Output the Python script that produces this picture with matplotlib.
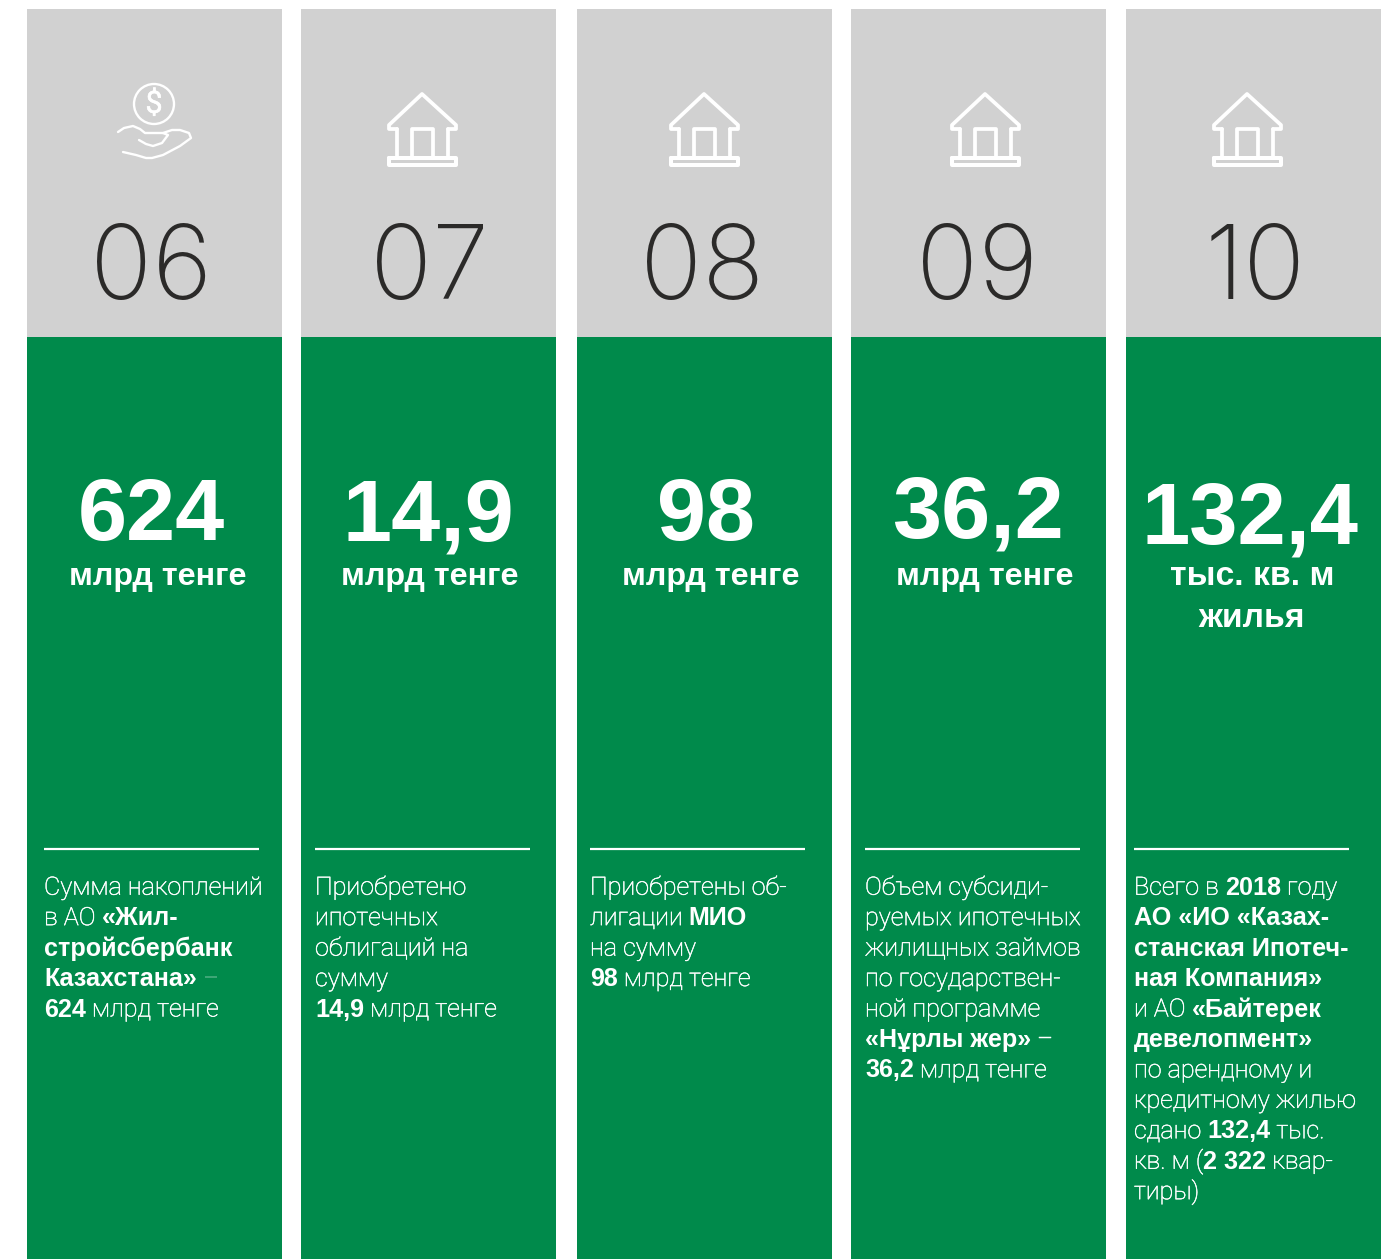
import matplotlib
matplotlib.use("Agg")
import matplotlib.pyplot as plt
import matplotlib.patheffects as pe
from matplotlib.patches import Rectangle, Circle

W, H = 1395, 1259
GRAY = "#d1d1d1"
GREEN = "#008a4b"
INK = "#2b2a29"
LIGHT = "Roboto"
THIN = "Inter"
BOLD = "Liberation Sans"

numbers = ["06", "07", "08", "09", "10"]
values = ["624", "14,9", "98", "36,2", "132,4"]
units = [["млрд тенге"], ["млрд тенге"], ["млрд тенге"], ["млрд тенге"], ["тыс. кв. м", "жилья"]]
icons = ["coin", "house", "house", "house", "house"]
descriptions = [
    ["Сумма накоплений", "в АО **«Жил-**", "**стройсбербанк**", "**Казахстана»** –", "**624** млрд тенге"],
    ["Приобретено", "ипотечных", "облигаций на", "сумму", "**14,9** млрд тенге"],
    ["Приобретены об-", "лигации **МИО**", "на сумму", "**98** млрд тенге"],
    ["Объем субсиди-", "руемых ипотечных", "жилищных займов", "по государствен-", "ной программе",
     "**«Нұрлы жер»** –", "**36,2** млрд тенге"],
    ["Всего в **2018** году", "**АО «ИО «Казах-**", "**станская Ипотеч-**", "**ная Компания»**",
     "и АО **«Байтерек**", "**девелопмент»**", "по арендному и", "кредитному жилью",
     "сдано **132,4** тыс.", "кв. м (**2 322** квар-", "тиры)"],
]

col_left = [27, 301, 577, 851, 1126]
col_width = 255
number_cx = [151, 429, 702, 977, 1255]
value_cx = [151, 428, 706, 978, 1250]
value_base = [540, 540, 540, 537, 543]
value_size = [63.5, 63.5, 63.5, 63.5, 62.5]
unit_cx = [158, 430, 711, 985, 1252]
unit_size = [23.2, 23.2, 23.2, 23.2, 24.3]
text_x = [44, 315, 590, 865, 1134]
icon_x = [0, 0, 282, 563, 825]
BODY_SIZE = 18.1

fig = plt.figure(figsize=(W / 100, H / 100), dpi=100, facecolor="white")
ax = fig.add_axes([0, 0, 1, 1])
ax.set_xlim(0, W)
ax.set_ylim(H, 0)
ax.axis("off")
thicken = [pe.withStroke(linewidth=0.35, foreground="white")]


def line(xs, ys, lw=2.7):
    ax.plot(xs, ys, color="white", lw=lw, solid_capstyle="round", solid_joinstyle="round")


def house(dx):
    line([x + dx for x in [397, 389, 389, 422, 456, 456, 448]], [129, 129, 125, 94, 125, 129, 129])
    line([397 + dx, 397 + dx], [129, 157])
    line([448 + dx, 448 + dx], [129, 157])
    line([x + dx for x in [412, 412, 433, 433]], [157, 129, 129, 157])
    line([x + dx for x in [389, 456, 456, 389, 389]], [158, 158, 165, 165, 158], lw=2.9)


def coin():
    ax.add_patch(Circle((154, 104), 20, fill=False, ec="white", lw=1.7))
    ax.text(154, 104, "$", color="white", fontsize=22, family=LIGHT, ha="center", va="center", path_effects=thicken)
    line([118, 124, 133, 140, 145, 163, 172, 180, 189, 191, 180, 163, 152, 146, 136, 123],
         [132, 128, 126, 129, 133, 133, 130, 130, 133, 138, 146, 155, 158, 158, 155, 152], lw=1.7)
    line([139, 146, 153, 162, 168, 163], [140, 144, 146, 143, 135, 133], lw=1.7)


def runs(x, base, s):
    parts = s.split("**")
    r = fig.canvas.get_renderer()
    for i, part in enumerate(parts):
        if not part:
            continue
        bold = i % 2 == 1
        t = ax.text(x, base, part.replace(" ", "\u00a0"), color="white", fontsize=BODY_SIZE, va="baseline",
                    ha="left", family=BOLD if bold else LIGHT, weight="bold" if bold else "light")
        if not bold:
            t.set_path_effects(thicken)
        x = t.get_window_extent(r).x1


for i in range(5):
    ax.add_patch(Rectangle((col_left[i], 9), col_width, 328, fc=GRAY, ec="none"))
    ax.add_patch(Rectangle((col_left[i], 337), col_width, H - 337, fc=GREEN, ec="none"))
    if icons[i] == "coin":
        coin()
    else:
        house(icon_x[i])
    ax.text(number_cx[i], 299, numbers[i], color=INK, fontsize=74, family=THIN, weight="light",
            ha="center", va="baseline")
    ax.text(value_cx[i], value_base[i], values[i], color="white", fontsize=value_size[i], family=BOLD,
            weight="bold", ha="center", va="baseline")
    for j, u in enumerate(units[i]):
        ax.text(unit_cx[i], 585 + 42 * j, u, color="white", fontsize=unit_size[i], family=BOLD,
                weight="bold", ha="center", va="baseline")
    ax.plot([text_x[i], text_x[i] + 215], [849, 849], color="white", lw=1.6, solid_capstyle="butt")
    for j, s in enumerate(descriptions[i]):
        runs(text_x[i], 894.7 + 30.45 * j, s)

fig.savefig("out.png", dpi=100, facecolor="white")
